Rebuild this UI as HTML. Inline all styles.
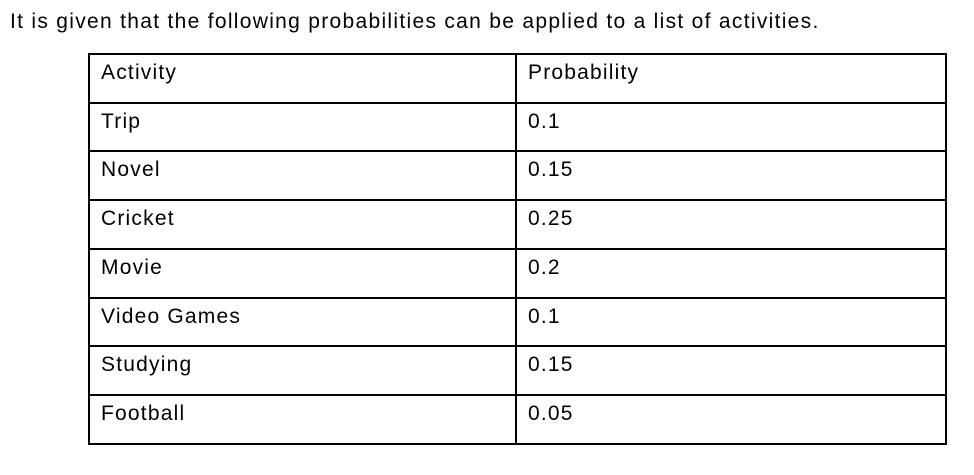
<!DOCTYPE html>
<html><head><meta charset="utf-8"><style>
body{margin:0;width:974px;height:475px;background:#fff;position:relative;font-family:"Liberation Sans",sans-serif;color:#000;overflow:hidden}
#title{position:absolute;left:10px;top:10px;font-size:21px;letter-spacing:1.3px;white-space:nowrap}
.hl{position:absolute;left:88px;width:859px;height:2px;background:#000}
.vl{position:absolute;top:53px;height:391px;width:2px;background:#000}
.c{position:absolute;font-size:21px;letter-spacing:1.2px;white-space:nowrap}
</style></head><body>
<div id="title">It is given that the following probabilities can be applied to a list of activities.</div>
<div id="tbl"></div>
<script>
const activities=["Activity","Trip","Novel","Cricket","Movie","Video Games","Studying","Football"];
const probs=["Probability","0.1","0.15","0.25","0.2","0.1","0.15","0.05"];
const t=document.getElementById('tbl');
const top0=53,rowH=48.7;
for(let i=0;i<=activities.length;i++){
 const l=document.createElement('div');l.className='hl';l.style.top=Math.round(top0+i*rowH)+'px';
 
 
 t.appendChild(l);}
[88,515,945].forEach(x=>{const v=document.createElement('div');v.className='vl';v.style.left=x+'px';
 
 
 t.appendChild(v);});
activities.forEach((a,i)=>{
 const y=Math.round(top0+i*rowH+8);
 const c1=document.createElement('div');c1.className='c';c1.style.left='101px';c1.style.top=y+'px';c1.textContent=a;
 
 
 t.appendChild(c1);
 const c2=document.createElement('div');c2.className='c';c2.style.left='528px';c2.style.top=y+'px';c2.textContent=probs[i];
 
 
 t.appendChild(c2);
});
</script>
</body></html>
